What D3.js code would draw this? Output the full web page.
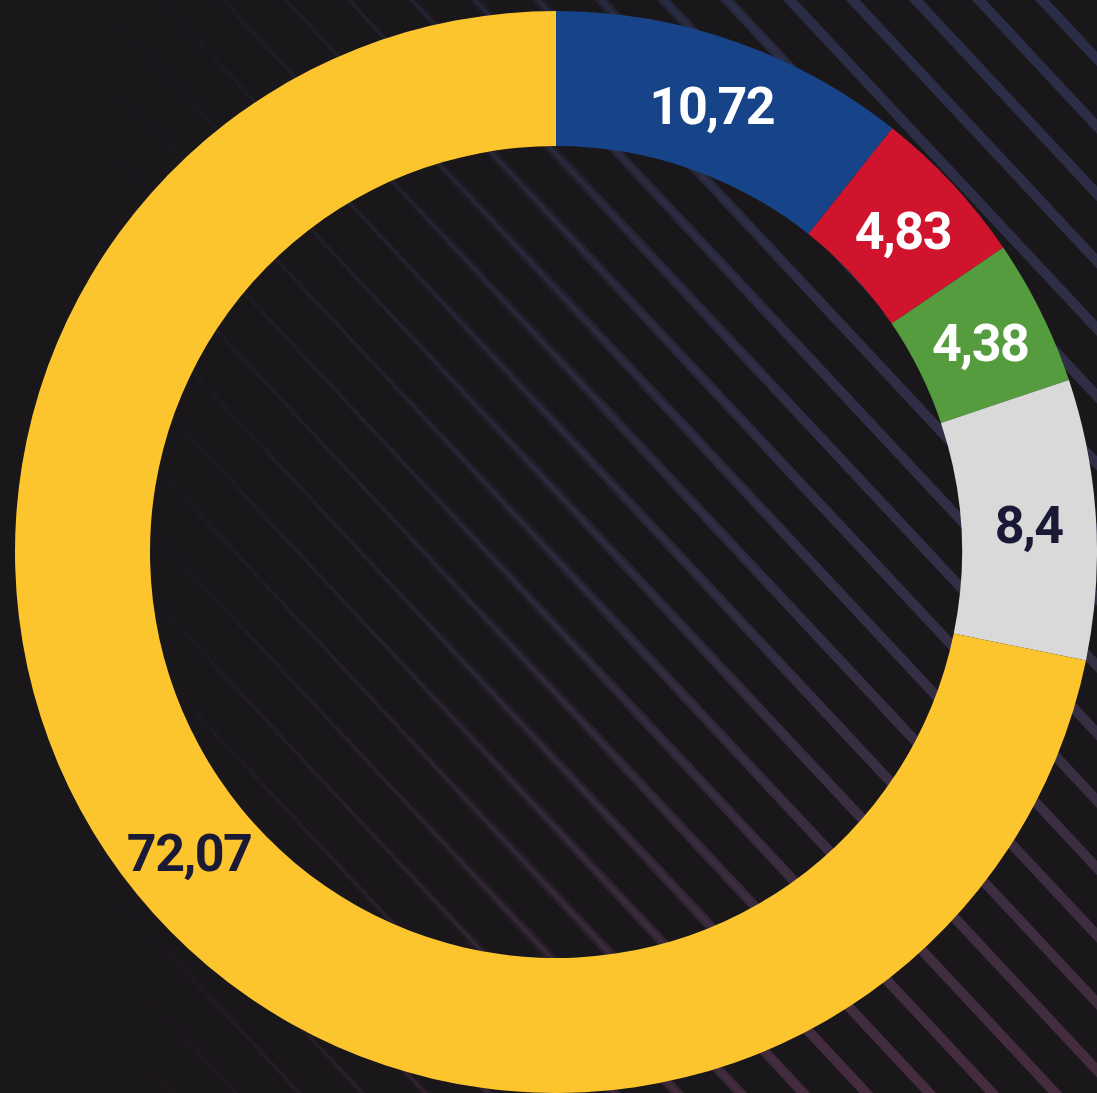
<!DOCTYPE html>
<html>
<head>
<meta charset="utf-8">
<script src="https://cdn.jsdelivr.net/npm/d3@7"></script>
<style>
  html, body { margin: 0; padding: 0; background: #19171a; overflow: hidden; }
</style>
</head>
<body>
<div id="chart"></div>
<script>
// data
const parties = ['blue', 'red', 'green', 'other', 'yellow'];
const values = [10.72, 4.83, 4.38, 8.4, 72.07];
const labels = ['10,72', '4,83', '4,38', '8,4', '72,07'];
const colors = ['#174489', '#d0142e', '#559c3f', '#d9d9d9', '#fdc52d'];
const labelColors = ['#ffffff', '#ffffff', '#ffffff', '#1b1a36', '#1b1a36'];

const width = 1097;
const height = 1093;
const cx = 556;
const cy = 552;
const outerR = 541;
const innerR = 406;

const svg = d3.select('#chart')
  .append('svg')
  .attr('width', width)
  .attr('height', height)
  .attr('xmlns', 'http://www.w3.org/2000/svg');

const defs = svg.append('defs');

// stripe colour goes from bluish at top to mauve at bottom
const colGrad = defs.append('linearGradient')
  .attr('id', 'stripeCol')
  .attr('gradientUnits', 'userSpaceOnUse')
  .attr('x1', 0).attr('y1', 0).attr('x2', 0).attr('y2', height);
colGrad.append('stop').attr('offset', '0%').attr('stop-color', '#2b2d46');
colGrad.append('stop').attr('offset', '55%').attr('stop-color', '#322f45');
colGrad.append('stop').attr('offset', '100%').attr('stop-color', '#452c3e');

// fade the stripes out towards the left
const fade = defs.append('linearGradient')
  .attr('id', 'fade')
  .attr('gradientUnits', 'userSpaceOnUse')
  .attr('x1', 120).attr('y1', 0).attr('x2', 750).attr('y2', 0);
fade.append('stop').attr('offset', '0%').attr('stop-color', '#fff').attr('stop-opacity', 0);
fade.append('stop').attr('offset', '100%').attr('stop-color', '#fff').attr('stop-opacity', 1);

const fadeThick = defs.append('linearGradient')
  .attr('id', 'fadeThick')
  .attr('gradientUnits', 'userSpaceOnUse')
  .attr('x1', 380).attr('y1', 0).attr('x2', 820).attr('y2', 0);
fadeThick.append('stop').attr('offset', '0%').attr('stop-color', '#fff').attr('stop-opacity', 0);
fadeThick.append('stop').attr('offset', '100%').attr('stop-color', '#fff').attr('stop-opacity', 1);

defs.append('mask').attr('id', 'maskThin')
  .append('rect').attr('width', width).attr('height', height).attr('fill', 'url(#fade)');
defs.append('mask').attr('id', 'maskThick')
  .append('rect').attr('width', width).attr('height', height).attr('fill', 'url(#fadeThick)');

// background
svg.append('rect')
  .attr('width', width)
  .attr('height', height)
  .attr('fill', '#19171a');

// diagonal stripes, a bit steeper than 45 degrees
const step = 63;
const slope = 1.07;
const run = (height + 40) / slope;
const offsets = d3.range(-run - 60, width + 40, step);

const drawStripes = (w, mask) => {
  svg.append('g')
    .attr('mask', `url(#${mask})`)
    .selectAll('line')
    .data(offsets)
    .enter()
    .append('line')
    .attr('x1', (d) => d)
    .attr('y1', -20)
    .attr('x2', (d) => d + run)
    .attr('y2', height + 20)
    .attr('stroke', 'url(#stripeCol)')
    .attr('stroke-width', w);
};
drawStripes(4, 'maskThin');
drawStripes(10, 'maskThick');

// donut
const pie = d3.pie()
  .sort(null)
  .value((d) => d);

const arc = d3.arc()
  .innerRadius(innerR)
  .outerRadius(outerR);

const g = svg.append('g')
  .attr('transform', `translate(${cx},${cy})`);

const arcs = pie(values);

g.selectAll('path')
  .data(arcs)
  .enter()
  .append('path')
  .attr('d', arc)
  .attr('fill', (d, i) => colors[i]);

// value labels
g.selectAll('text')
  .data(arcs)
  .enter()
  .append('text')
  .attr('transform', (d) => `translate(${arc.centroid(d)})`)
  .attr('text-anchor', 'middle')
  .attr('dy', '0.37em')
  .attr('fill', (d, i) => labelColors[i])
  .style('font-family', 'Roboto, "Noto Sans", sans-serif')
  .style('font-weight', 700)
  .style('font-size', '52px')
  .style('letter-spacing', '-1.5px')
  .text((d, i) => labels[i]);
</script>
</body>
</html>
